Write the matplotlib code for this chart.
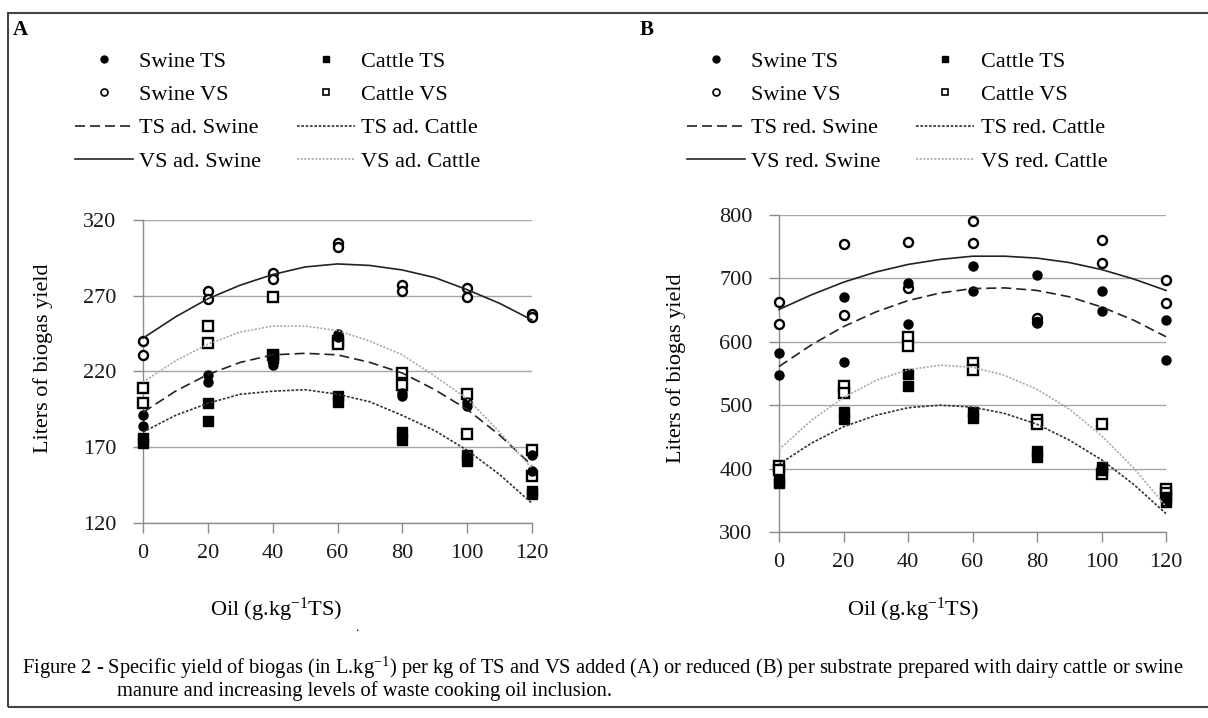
#!/usr/bin/env python3
"""Biogas specific yield vs waste cooking oil inclusion (panels A and B)."""

import matplotlib
matplotlib.use("Agg")
import matplotlib.pyplot as plt
from matplotlib.lines import Line2D
from matplotlib.patches import Rectangle

W, H = 1208, 718

plt.rcParams["font.family"] = ["Liberation Serif", "DejaVu Serif"]
plt.rcParams["mathtext.fontset"] = "custom"
plt.rcParams["mathtext.rm"] = "Liberation Serif"
plt.rcParams["mathtext.it"] = "Liberation Serif:italic"

# x positions of the replicate points and of the read-off trend curves
oil_reps = [0, 0, 20, 20, 40, 40, 60, 60, 80, 80, 100, 100, 120, 120]
oil_trend = [0, 10, 20, 30, 40, 50, 60, 70, 80, 90, 100, 110, 120]

# panel A: yield per kg of TS / VS added
a_swine_ts = [191, 184, 218, 213, 226, 224, 245, 243, 206, 204, 200, 197, 165, 154]
a_swine_vs = [240, 231, 273, 268, 285, 281, 305, 302, 277, 273, 275, 269, 258, 256]
a_cattle_ts = [176, 173, 199, 187, 231, 229, 204, 200, 180, 175, 165, 161, 141, 139]
a_cattle_vs = [209, 199, 250, 239, 269, 231, 240, 238, 219, 211, 205, 179, 168, 151]
a_trend_ts_swine = [193, 207, 218, 226, 231, 232, 231, 226, 219, 208, 195, 178, 158]
a_trend_vs_swine = [242, 256, 268, 277, 284, 289, 291, 290, 287, 282, 274, 265, 254]
a_trend_ts_cattle = [180, 191, 199, 205, 207, 208, 205, 200, 191, 181, 168, 152, 133]
a_trend_vs_cattle = [213, 227, 238, 246, 250, 250, 247, 240, 231, 217, 202, 180, 156]

# panel B: yield per kg of TS / VS reduced
b_swine_ts = [583, 547, 670, 568, 692, 628, 719, 680, 705, 630, 680, 649, 634, 571]
b_swine_vs = [663, 628, 755, 643, 758, 685, 791, 756, 638, 632, 760, 724, 697, 661]
b_cattle_ts = [380, 378, 490, 478, 550, 531, 489, 480, 428, 419, 402, 398, 355, 348]
b_cattle_vs = [404, 398, 531, 519, 608, 593, 566, 556, 477, 471, 471, 391, 368, 362]
b_trend_ts_swine = [561, 595, 624, 647, 665, 677, 684, 685, 681, 671, 655, 634, 608]
b_trend_vs_swine = [651, 674, 694, 710, 722, 730, 735, 735, 732, 725, 714, 699, 681]
b_trend_ts_cattle = [407, 440, 466, 484, 496, 500, 497, 487, 470, 445, 414, 375, 329]
b_trend_vs_cattle = [430, 476, 512, 539, 556, 563, 560, 547, 525, 494, 452, 401, 340]

AXIS_GREY = "#8c8c8c"
DASHED = dict(color="#222222", lw=1.2, dashes=(6, 3))
SOLID = dict(color="#222222", lw=1.2)
DOTTED = dict(color="#333333", lw=1.2, dashes=(1.6, 1.0))
LIGHT = dict(color="#a8a8a8", lw=1.2, dashes=(1.2, 1.0))


def fx(x):
    return x / W


def fy(y):
    return 1 - y / H


def draw_panel(ax, swine_ts, swine_vs, cattle_ts, cattle_vs,
               tr_ts_swine, tr_vs_swine, tr_ts_cattle, tr_vs_cattle, yticks):
    ax.set_xlim(0, 120)
    ax.set_ylim(yticks[0], yticks[-1])
    ax.set_xticks(range(0, 121, 20))
    ax.set_yticks(yticks)
    ax.yaxis.grid(True, color="#a6a6a6", lw=1.0)
    ax.set_axisbelow(True)
    for side in ("top", "right"):
        ax.spines[side].set_visible(False)
    for side in ("left", "bottom"):
        ax.spines[side].set_color(AXIS_GREY)
        ax.spines[side].set_linewidth(1.0)
    ax.tick_params(direction="out", length=7, width=1, color=AXIS_GREY,
                   labelsize=16, labelcolor="#1a1a1a")
    ax.tick_params(axis="y", pad=12)
    ax.tick_params(axis="x", pad=8)

    open_kw = dict(ls="none", ms=6.5, mfc="white", mec="black", mew=1.7, clip_on=False, zorder=3)
    fill_kw = dict(ls="none", ms=6.5, mfc="black", mec="black", mew=1.0, clip_on=False, zorder=4)
    ax.plot(oil_reps, swine_vs, marker="o", **open_kw)
    ax.plot(oil_reps, cattle_vs, marker="s", **open_kw)
    ax.plot(oil_reps, swine_ts, marker="o", **fill_kw)
    ax.plot(oil_reps, cattle_ts, marker="s", **fill_kw)

    ax.plot(oil_trend, tr_ts_swine, zorder=5, clip_on=False, **DASHED)
    ax.plot(oil_trend, tr_vs_swine, zorder=5, clip_on=False, **SOLID)
    ax.plot(oil_trend, tr_ts_cattle, zorder=5, clip_on=False, **DOTTED)
    ax.plot(oil_trend, tr_vs_cattle, zorder=5, clip_on=False, **LIGHT)


def add_legend(fig, x, y, word):
    handles = [
        Line2D([], [], ls="none", marker="o", ms=5, mfc="black", mec="black"),
        Line2D([], [], ls="none", marker="o", ms=5, mfc="white", mec="black", mew=1.2),
        Line2D([], [], **DASHED),
        Line2D([], [], **SOLID),
        Line2D([], [], ls="none", marker="s", ms=5, mfc="black", mec="black"),
        Line2D([], [], ls="none", marker="s", ms=5, mfc="white", mec="black", mew=1.2),
        Line2D([], [], **DOTTED),
        Line2D([], [], **LIGHT),
    ]
    labels = [
        "Swine TS", "Swine VS", f"TS {word}. Swine", f"VS {word}. Swine",
        "Cattle TS", "Cattle VS", f"TS {word}. Cattle", f"VS {word}. Cattle",
    ]
    fig.legend(handles, labels, loc="upper left", bbox_to_anchor=(fx(x), fy(y)),
               ncol=2, frameon=False, fontsize=16, borderpad=0, borderaxespad=0,
               handlelength=2.6, handletextpad=0.3, columnspacing=1.6,
               labelspacing=0.58)


fig = plt.figure(figsize=(W / 100, H / 100), dpi=100)

ax_a = fig.add_axes([fx(143), fy(523), (532 - 143) / W, (523 - 220) / H])
draw_panel(ax_a, a_swine_ts, a_swine_vs, a_cattle_ts, a_cattle_vs,
           a_trend_ts_swine, a_trend_vs_swine, a_trend_ts_cattle, a_trend_vs_cattle,
           [120, 170, 220, 270, 320])

ax_b = fig.add_axes([fx(779), fy(532), (1166 - 779) / W, (532 - 215) / H])
draw_panel(ax_b, b_swine_ts, b_swine_vs, b_cattle_ts, b_cattle_vs,
           b_trend_ts_swine, b_trend_vs_swine, b_trend_ts_cattle, b_trend_vs_cattle,
           [300, 400, 500, 600, 700, 800])

add_legend(fig, 75, 51, "ad")
add_legend(fig, 687, 51, "red")

fig.text(fx(13), fy(30), "A", fontsize=15, fontweight="bold", va="center", ha="left")
fig.text(fx(640), fy(30), "B", fontsize=15, fontweight="bold", va="center", ha="left")

fig.text(fx(43), fy(358), "Liters of biogas yield", rotation=90, fontsize=16,
         ha="center", va="center")
fig.text(fx(676), fy(368), "Liters of biogas yield", rotation=90, fontsize=16,
         ha="center", va="center")

xlabel = "Oil (g.kg$^{-1}$TS)"
fig.text(fx(276), fy(610), xlabel, fontsize=16, ha="center", va="center")
fig.text(fx(913), fy(610), xlabel, fontsize=16, ha="center", va="center")
fig.text(fx(357), fy(628), ".", fontsize=9, ha="center", va="center")

fig.text(fx(22), fy(668),
         "Figure 2 - Specific yield of biogas (in L.kg$^{-1}$) per kg of TS and VS added (A) "
         "or reduced (B) per substrate prepared with dairy cattle or swine",
         fontsize=14.8, ha="left", va="center")
fig.text(fx(117), fy(691), "manure and increasing levels of waste cooking oil inclusion.",
         fontsize=14.8, ha="left", va="center")

fig.patches.append(Rectangle((fx(8), fy(707)), fx(1215) - fx(8), fy(13) - fy(707),
                             transform=fig.transFigure, fill=False,
                             edgecolor="#444444", lw=1.5))

fig.savefig("out.png", dpi=100)
